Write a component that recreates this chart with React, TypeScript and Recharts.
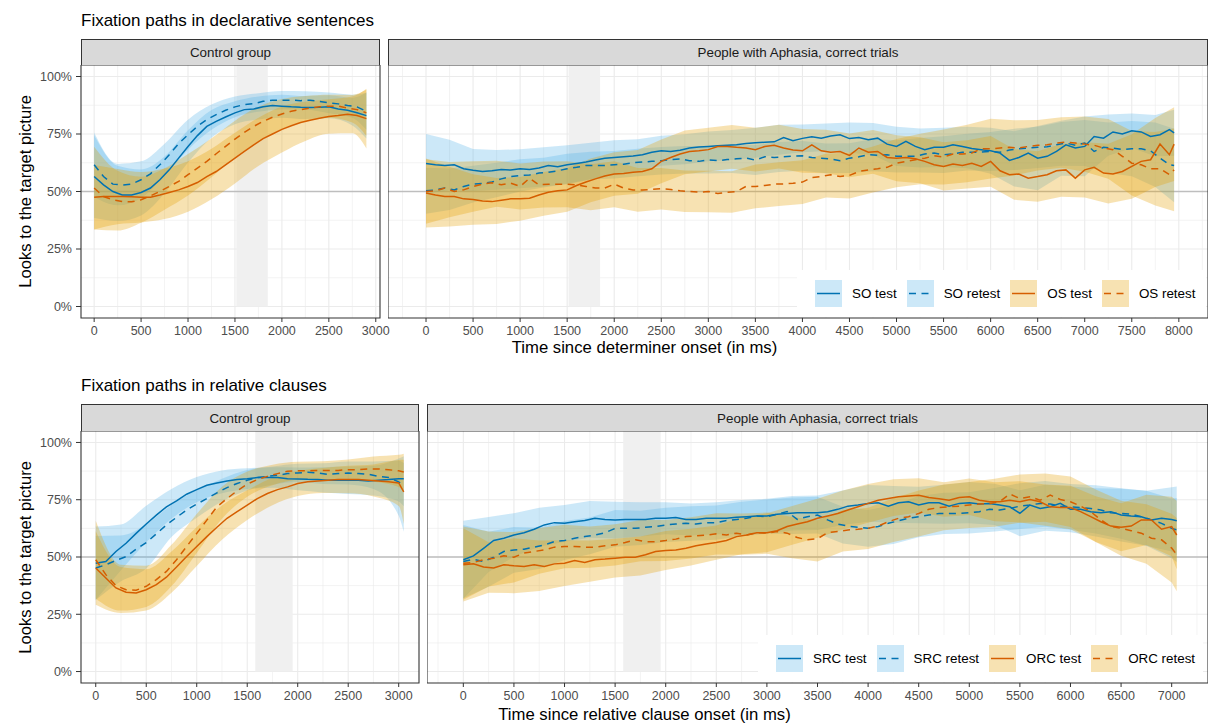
import React from "react";
import { Area, ComposedChart, Line, ReferenceArea, ReferenceLine, XAxis, YAxis } from "recharts";

const FONT = '"Liberation Sans", Arial, Helvetica, sans-serif';
const BLUE = "#0072B2";
const ORANGE = "#D55E00";
const BLUE_FILL = "#56B4E9";
const ORANGE_FILL = "#E69F00";
const GRID = "#EBEBEB";
const DARK = "#333333";
const TICK_GREY = "#4D4D4D";
const X_AXIS_H = 30;
const DASH = "7 5.5";

// y axis
const Y_TICKS = [0, 25, 50, 75, 100];
const Y_MINOR = [12.5, 37.5, 62.5, 87.5];

// legend labels
const TOP_NAMES = ["SO test", "SO retest", "OS test", "OS retest"];
const BOTTOM_NAMES = ["SRC test", "SRC retest", "ORC test", "ORC retest"];

// ---------- declarative sentences, control group ----------
const TOP_CTRL_T = [0, 100, 200, 300, 400, 500, 600, 700, 800, 900, 1000, 1100, 1200, 1300, 1400, 1500, 1600, 1700, 1800, 1900, 2000, 2100, 2200, 2300, 2400, 2500, 2600, 2700, 2800, 2900];
const TOP_CTRL_SO_TEST = [56.5, 52.9, 50, 48.5, 48.5, 49.6, 51.5, 55.1, 59.4, 64.5, 69.6, 74.3, 78.3, 80.5, 82.4, 84.2, 85.6, 85.9, 86.8, 87.4, 87.1, 86.8, 86.6, 86.5, 86.6, 86.8, 85.9, 85.3, 84.2, 83.0];
const TOP_CTRL_SO_RETEST = [61.6, 56.5, 53.2, 52.8, 53.2, 55.1, 57.7, 61.6, 66.0, 70.8, 74.7, 78.3, 81.3, 83.4, 85.3, 86.8, 87.8, 88.2, 89.2, 89.7, 89.7, 89.7, 89.5, 89.7, 89.2, 88.5, 88.1, 87.4, 86.8, 84.9];
const TOP_CTRL_OS_TEST = [47.5, 47.8, 47.8, 47.8, 47.7, 47.5, 47.5, 48.5, 49.6, 50.7, 52.2, 53.9, 56.5, 58.7, 61.6, 64.5, 67.4, 70.3, 73.0, 75.0, 77.0, 78.6, 80.0, 81.0, 81.8, 82.6, 83.0, 83.6, 83.0, 81.7];
const TOP_CTRL_OS_RETEST = [51.5, 47.8, 46.4, 45.6, 45.5, 46.4, 48.1, 50.0, 52.2, 54.4, 57.3, 60.2, 63.1, 66.4, 69.6, 72.8, 75.7, 78.3, 80.5, 82.3, 83.7, 84.9, 85.6, 86.3, 86.8, 87.1, 87.1, 86.3, 85.6, 84.2];

const TOP_CTRL_BAND_T = [0, 250, 500, 750, 1000, 1250, 1500, 1750, 2000, 2250, 2500, 2750, 2900];
const TOP_CTRL_SO_TEST_HI = [74.5, 61.2, 59.6, 65.2, 76.6, 85.4, 89.2, 91.3, 92.1, 91.5, 91.8, 90.7, 93.0];
const TOP_CTRL_SO_TEST_LO = [38.5, 37.2, 39.6, 49.2, 62.6, 73.4, 79.2, 81.3, 82.1, 81.5, 81.8, 78.7, 73.0];
const TOP_CTRL_SO_RETEST_HI = [75.6, 62.0, 63.1, 70.8, 81.2, 87.8, 91.3, 92.7, 93.7, 93.6, 93.0, 92.1, 92.9];
const TOP_CTRL_SO_RETEST_LO = [47.6, 44.0, 47.1, 56.8, 68.2, 76.8, 82.3, 84.7, 85.7, 85.6, 84.0, 82.1, 76.9];
const TOP_CTRL_OS_TEST_HI = [61.5, 59.8, 58.5, 60.0, 63.2, 68.6, 75.5, 82.1, 87.0, 89.0, 90.1, 91.3, 94.7];
const TOP_CTRL_OS_TEST_LO = [33.5, 35.8, 36.5, 38.0, 41.2, 46.6, 53.5, 61.1, 67.0, 72.0, 75.1, 75.3, 68.7];
const TOP_CTRL_OS_RETEST_HI = [69.5, 59.0, 56.4, 60.1, 66.3, 73.2, 80.8, 86.9, 90.2, 91.5, 92.1, 92.0, 94.2];
const TOP_CTRL_OS_RETEST_LO = [33.5, 33.0, 36.4, 42.1, 48.3, 56.2, 64.8, 71.9, 77.2, 80.5, 82.1, 80.0, 74.2];

// ---------- declarative sentences, people with aphasia ----------
const TOP_PWA_T = [
  0, 100, 200, 300, 400, 500, 600, 700, 800, 900,
  1000, 1100, 1200, 1300, 1400, 1500, 1600, 1700, 1800, 1900,
  2000, 2100, 2200, 2300, 2400, 2500, 2600, 2700, 2800, 2900,
  3000, 3100, 3200, 3300, 3400, 3500, 3600, 3700, 3800, 3900,
  4000, 4100, 4200, 4300, 4400, 4500, 4600, 4700, 4800, 4900,
  5000, 5100, 5200, 5300, 5400, 5500, 5600, 5700, 5800, 5900,
  6000, 6100, 6200, 6300, 6400, 6500, 6600, 6700, 6800, 6900,
  7000, 7100, 7200, 7300, 7400, 7500, 7600, 7700, 7800, 7900, 7950,
];
const TOP_PWA_SO_TEST = [
  62.2, 61.6, 61.3, 61.6, 59.9, 59.2, 58.7, 59.0, 59.6, 59.3,
  59.9, 59.6, 60.2, 61.3, 60.8, 61.6, 62.2, 62.8, 63.7, 64.5,
  64.8, 65.1, 65.4, 66.0, 67.1, 67.7, 67.4, 67.9, 68.9, 69.3,
  69.6, 69.9, 70.1, 70.3, 70.9, 71.2, 71.4, 71.6, 73.5, 72.1,
  73.1, 73.8, 73.2, 74.1, 74.7, 73.0, 73.5, 72.5, 73.2, 70.6,
  69.6, 71.8, 69.6, 68.2, 69.2, 69.2, 70.3, 69.6, 68.7, 68.2,
  67.7, 66.7, 63.5, 64.8, 66.7, 64.5, 65.3, 67.4, 70.3, 68.9,
  69.6, 73.9, 73.2, 75.9, 75.0, 76.4, 75.9, 73.9, 74.7, 76.9, 75.5,
];
const TOP_PWA_SO_RETEST = [
  50.3, 50.7, 51.5, 50.7, 52.2, 53.2, 53.5, 54.1, 55.5, 56.5,
  57.0, 57.2, 58.0, 58.4, 59.0, 59.9, 60.5, 61.3, 61.3, 61.3,
  61.6, 61.9, 62.5, 62.8, 63.1, 63.4, 63.9, 64.2, 63.4, 63.1,
  63.8, 63.4, 63.9, 64.2, 64.5, 63.7, 65.1, 64.8, 65.1, 65.4,
  65.5, 64.8, 64.5, 64.2, 63.4, 64.5, 65.1, 66.0, 65.7, 66.0,
  65.3, 65.3, 65.3, 66.3, 66.7, 66.0, 66.3, 67.1, 67.1, 67.1,
  67.4, 67.1, 68.0, 68.6, 68.9, 69.2, 69.5, 70.3, 71.1, 70.1,
  71.1, 67.4, 69.2, 68.9, 68.2, 68.6, 68.6, 67.7, 64.5, 61.6, 61.3,
];
const TOP_PWA_OS_TEST = [
  49.3, 48.5, 47.8, 47.8, 46.8, 46.5, 45.9, 45.6, 46.2, 46.8,
  46.8, 47.1, 48.5, 49.7, 50.3, 50.7, 52.6, 54.1, 55.5, 56.7,
  57.6, 57.8, 58.4, 58.7, 59.9, 63.1, 64.8, 66.3, 67.4, 67.7,
  68.2, 69.6, 69.6, 69.2, 68.9, 68.2, 69.6, 70.1, 68.9, 68.0,
  67.7, 70.3, 67.7, 67.1, 67.4, 65.7, 68.9, 67.1, 67.4, 64.8,
  64.5, 64.8, 64.2, 63.1, 61.6, 60.9, 61.9, 61.3, 62.3, 60.9,
  63.1, 59.0, 57.3, 57.6, 55.8, 56.5, 57.3, 59.0, 59.4, 55.8,
  59.4, 60.5, 58.0, 57.6, 58.7, 60.9, 63.1, 63.8, 70.6, 66.0, 70.6,
];
const TOP_PWA_OS_RETEST = [
  50.0, 50.3, 51.5, 50.0, 50.7, 52.2, 53.2, 53.8, 52.9, 53.6,
  52.2, 55.8, 52.9, 53.2, 53.2, 53.2, 52.9, 52.2, 51.5, 51.5,
  53.2, 51.5, 50.7, 50.7, 50.9, 51.2, 50.9, 50.3, 50.0, 49.7,
  50.0, 49.1, 49.7, 50.0, 52.2, 52.2, 52.6, 53.2, 53.3, 53.6,
  54.1, 56.1, 56.5, 57.3, 56.5, 57.0, 58.7, 59.4, 59.9, 60.5,
  62.3, 63.1, 63.8, 64.5, 65.5, 65.0, 66.3, 66.3, 66.7, 68.6,
  68.6, 68.9, 69.2, 68.9, 69.6, 70.1, 70.3, 71.1, 71.5, 71.1,
  70.6, 70.1, 68.9, 68.2, 65.3, 62.3, 61.6, 59.9, 59.9, 57.3, 59.4,
];

const TOP_PWA_BAND_T = [0, 250, 500, 750, 1000, 1250, 1500, 1750, 2000, 2250, 2500, 2750, 3000, 3250, 3500, 3750, 4000, 4250, 4500, 4750, 5000, 5250, 5500, 5750, 6000, 6250, 6500, 6750, 7000, 7250, 7500, 7750, 7950];
const TOP_PWA_SO_TEST_HI = [75, 72.5, 68.5, 68, 68.4, 69.2, 70.1, 71.2, 72.3, 72.7, 74.2, 74.9, 76.1, 76.7, 77.7, 79, 79.1, 79.6, 80, 79.8, 78.1, 77.4, 77.7, 78.1, 77.7, 76.2, 78.5, 80.8, 82.6, 83.5, 83.9, 83.3, 85.5];
const TOP_PWA_SO_TEST_LO = [49, 50.5, 50.2, 50.8, 51.4, 52.2, 53.1, 55.2, 57.3, 58.7, 61.2, 61.9, 63.1, 63.7, 64.7, 66, 67.1, 67.6, 67, 65.8, 61.1, 60.4, 60.7, 60.1, 57.7, 52.2, 50.5, 56.8, 56.6, 65.5, 68.9, 65.3, 65.5];
const TOP_PWA_SO_RETEST_HI = [60.3, 60, 61.2, 62.5, 64, 64.7, 66.4, 67.3, 67.6, 68.6, 69.4, 69.8, 69.8, 70, 70.2, 71.5, 72, 70.9, 71, 72.8, 72.3, 73.3, 74, 75.1, 75.9, 77.3, 78.2, 80.2, 81.1, 80, 80.6, 80, 77.3];
const TOP_PWA_SO_RETEST_LO = [40.3, 42, 45.2, 47.5, 50, 51.7, 53.4, 55.3, 55.6, 56.6, 57.4, 57.8, 57.8, 58, 57.2, 58.5, 59, 57.9, 58, 58.8, 58.3, 58.3, 58, 59.1, 58.9, 59.3, 60.2, 61.2, 61.1, 58, 56.6, 52, 45.3];
const TOP_PWA_OS_TEST_HI = [64.3, 60.8, 57.5, 55.9, 56.3, 58.5, 60.2, 64.3, 67.1, 68, 72.6, 76.5, 77.7, 78.9, 77.7, 79, 77.2, 76.9, 75.2, 76.7, 74.5, 73.6, 71.4, 72.3, 74.1, 68.4, 67.5, 70.7, 71.4, 70.8, 74.9, 82, 86.6];
const TOP_PWA_OS_TEST_LO = [34.3, 34.8, 35.5, 35.9, 37.3, 39.5, 41.2, 45.3, 48.1, 49, 53.6, 57.5, 58.7, 59.9, 58.7, 60, 58.2, 57.9, 56.2, 57.7, 54.5, 53.6, 50.4, 51.3, 52.1, 46.4, 45.5, 47.7, 47.4, 44.8, 46.9, 52, 54.6];
const TOP_PWA_OS_RETEST_HI = [64, 62.8, 63.2, 63.4, 62.2, 63, 63.2, 61.8, 63.2, 60.2, 60.2, 59.1, 59, 58.8, 61.7, 62.7, 63.6, 66.4, 67, 69.6, 72.8, 75.1, 77, 79, 81.6, 81, 81.1, 82.3, 82.6, 81.5, 76.3, 75.9, 77.4];
const TOP_PWA_OS_RETEST_LO = [36, 38.8, 41.2, 43.4, 42.2, 43, 43.2, 41.8, 43.2, 41.2, 42.2, 41.1, 41, 40.8, 42.7, 43.7, 44.6, 47.4, 47, 49.6, 51.8, 53.1, 53, 54, 55.6, 57, 59.1, 60.3, 58.6, 55.5, 48.3, 43.9, 41.4];

// ---------- relative clauses, control group ----------
const BOT_CTRL_T = [0, 100, 200, 300, 400, 500, 600, 700, 800, 900, 1000, 1100, 1200, 1300, 1400, 1500, 1600, 1700, 1800, 1900, 2000, 2100, 2200, 2300, 2400, 2500, 2600, 2700, 2800, 2900, 3000, 3050];
const BOT_CTRL_SRC_TEST = [47.3, 48.0, 52.4, 56.0, 60.3, 64.4, 68.3, 71.9, 74.5, 77.4, 79.4, 81.3, 82.3, 83.2, 83.8, 84.2, 84.7, 84.7, 84.7, 84.2, 84.1, 83.9, 83.8, 83.5, 83.5, 83.5, 83.5, 83.2, 83.5, 83.8, 84.2, 84.2];
const BOT_CTRL_SRC_RETEST = [45.2, 46.6, 48.5, 50.2, 53.4, 56.3, 60.1, 64.0, 67.3, 70.5, 73.1, 75.5, 78.0, 80.3, 82.1, 83.5, 84.7, 85.2, 85.7, 86.4, 86.7, 87.0, 86.7, 86.1, 86.4, 86.7, 86.4, 86.1, 85.2, 84.7, 82.8, 80.9];
const BOT_CTRL_ORC_TEST = [45.2, 40.8, 36.5, 34.6, 34.3, 35.7, 37.9, 41.2, 45.6, 50.2, 54.6, 58.9, 63.0, 66.9, 69.8, 72.6, 75.5, 77.7, 79.4, 80.6, 82.1, 82.8, 83.2, 83.5, 83.8, 83.8, 83.8, 83.5, 83.2, 82.8, 82.3, 78.4];
const BOT_CTRL_ORC_RETEST = [48.8, 42.3, 37.5, 35.7, 35.5, 37.2, 40.1, 43.7, 48.8, 54.6, 60.3, 66.1, 71.9, 75.5, 78.9, 81.8, 83.8, 85.2, 86.4, 87.4, 87.6, 87.6, 87.8, 87.8, 87.8, 88.1, 88.1, 88.4, 88.4, 88.1, 87.6, 87.1];

const BOT_CTRL_BAND_T = [0, 250, 500, 750, 1000, 1250, 1500, 1750, 2000, 2250, 2500, 2750, 3000, 3050];
const BOT_CTRL_SRC_TEST_HI = [63.3, 64.2, 72.4, 79.7, 84.9, 87.8, 88.7, 89.2, 89.1, 89.2, 89.5, 89.8, 93.0, 94.0];
const BOT_CTRL_SRC_TEST_LO = [31.3, 44.2, 56.4, 66.7, 73.9, 77.8, 79.7, 80.2, 79.1, 78.2, 77.5, 76.8, 74.2, 72.2];
const BOT_CTRL_SRC_RETEST_HI = [59.2, 59.4, 64.3, 72.7, 79.1, 84.2, 88.0, 89.5, 90.7, 90.9, 91.7, 91.7, 92.0, 91.0];
const BOT_CTRL_SRC_RETEST_LO = [31.2, 39.4, 45.0, 58.7, 67.1, 74.2, 79.0, 81.5, 82.7, 81.9, 81.7, 79.7, 68.0, 61.0];
const BOT_CTRL_ORC_TEST_HI = [61.2, 45.6, 44.7, 52.4, 63.1, 72.5, 79.1, 84.6, 87.6, 88.9, 89.8, 90.4, 92.3, 92.4];
const BOT_CTRL_ORC_TEST_LO = [29.2, 25.6, 26.7, 34.4, 46.1, 57.5, 66.1, 72.6, 76.6, 77.9, 77.8, 76.4, 72.3, 64.4];
const BOT_CTRL_ORC_RETEST_HI = [65.8, 46.6, 46.2, 55.3, 68.8, 80.7, 87.3, 90.3, 91.6, 91.8, 92.6, 93.9, 94.6, 95.1];
const BOT_CTRL_ORC_RETEST_LO = [31.8, 26.6, 28.2, 37.3, 51.8, 66.7, 76.3, 81.3, 83.6, 83.8, 83.6, 82.9, 80.6, 79.1];

// ---------- relative clauses, people with aphasia ----------
const BOT_PWA_T = [
  0, 100, 200, 300, 400, 500, 600, 700, 800, 900,
  1000, 1100, 1200, 1300, 1400, 1500, 1600, 1700, 1800, 1900,
  2000, 2100, 2200, 2300, 2400, 2500, 2600, 2700, 2800, 2900,
  3000, 3100, 3200, 3300, 3400, 3500, 3600, 3700, 3800, 3900,
  4000, 4100, 4200, 4300, 4400, 4500, 4600, 4700, 4800, 4900,
  5000, 5100, 5200, 5300, 5400, 5500, 5600, 5700, 5800, 5900,
  6000, 6100, 6200, 6300, 6400, 6500, 6600, 6700, 6800, 6900,
  7000, 7050,
];
const BOT_PWA_SRC_TEST = [
  48.8, 50.5, 53.8, 57.2, 58.2, 59.6, 60.6, 62.1, 64.0, 65.0,
  64.7, 65.4, 65.9, 66.9, 66.4, 66.1, 66.4, 66.4, 66.4, 66.9,
  66.9, 67.2, 66.4, 66.4, 66.9, 66.9, 66.9, 67.3, 67.6, 67.9,
  67.9, 68.7, 69.0, 69.3, 69.3, 69.3, 69.8, 70.8, 72.2, 72.7,
  73.4, 73.7, 72.2, 73.7, 74.1, 72.7, 73.7, 73.7, 72.2, 73.4,
  73.7, 73.1, 73.4, 72.7, 71.9, 69.1, 72.7, 71.2, 71.9, 73.4,
  70.8, 70.8, 69.8, 69.3, 69.8, 68.3, 67.9, 67.6, 66.2, 66.9,
  66.4, 65.8,
];
const BOT_PWA_SRC_RETEST = [
  48.0, 49.0, 48.0, 49.9, 52.4, 53.1, 53.4, 54.3, 55.3, 56.7,
  57.2, 58.2, 58.9, 59.6, 60.6, 62.5, 62.5, 62.5, 63.0, 63.3,
  64.0, 64.4, 64.7, 64.4, 65.0, 65.0, 65.9, 66.4, 66.9, 67.9,
  67.6, 68.7, 69.8, 66.4, 67.6, 68.3, 66.2, 64.4, 63.5, 63.0,
  62.5, 63.3, 64.7, 65.8, 66.9, 67.6, 68.3, 69.0, 69.0, 69.0,
  69.3, 69.8, 70.8, 70.5, 71.2, 72.2, 72.7, 73.4, 73.1, 72.2,
  71.9, 71.6, 71.2, 70.5, 69.3, 69.0, 68.7, 67.6, 66.2, 64.7,
  62.5, 61.8,
];
const BOT_PWA_ORC_TEST = [
  46.6, 47.0, 45.6, 45.2, 46.6, 46.2, 45.9, 46.6, 45.9, 47.0,
  47.3, 48.5, 47.6, 48.8, 49.1, 49.5, 49.9, 49.9, 51.0, 52.4,
  52.8, 53.1, 53.8, 54.9, 55.7, 56.3, 57.2, 58.9, 59.6, 60.6,
  60.6, 61.5, 63.3, 64.4, 65.4, 66.9, 67.9, 69.0, 70.5, 71.9,
  73.4, 74.8, 75.5, 76.3, 76.6, 76.9, 76.0, 75.4, 74.8, 76.0,
  76.3, 74.8, 74.1, 74.1, 74.8, 74.1, 75.1, 74.1, 71.9, 71.6,
  71.6, 69.8, 67.6, 65.4, 63.5, 63.0, 63.5, 66.2, 66.2, 62.1,
  63.3, 59.6,
];
const BOT_PWA_ORC_RETEST = [
  47.3, 47.6, 48.8, 49.5, 50.5, 49.9, 51.7, 52.4, 53.1, 54.3,
  54.6, 54.6, 54.3, 54.3, 54.9, 55.3, 56.3, 57.5, 56.7, 56.7,
  57.2, 57.8, 58.9, 59.2, 59.6, 60.1, 59.6, 60.4, 59.6, 60.6,
  60.4, 61.1, 60.4, 58.5, 57.5, 58.0, 60.6, 61.1, 61.8, 62.1,
  62.5, 63.5, 65.4, 66.9, 67.6, 69.0, 70.8, 71.6, 71.9, 72.2,
  72.7, 73.1, 73.4, 74.1, 77.5, 75.5, 76.3, 74.8, 77.0, 75.1,
  74.1, 72.2, 69.8, 66.2, 63.3, 62.5, 61.5, 60.4, 58.2, 57.5,
  53.9, 51.0,
];

const BOT_PWA_BAND_T = [0, 250, 500, 750, 1000, 1250, 1500, 1750, 2000, 2250, 2500, 2750, 3000, 3250, 3500, 3750, 4000, 4250, 4500, 4750, 5000, 5250, 5500, 5750, 6000, 6250, 6500, 6750, 7000, 7050];
const BOT_PWA_SRC_TEST_HI = [65.8, 67.5, 69.1, 71.5, 72.7, 74.4, 74.1, 73.9, 73.9, 73.4, 73.9, 74.9, 75.4, 76.6, 76.8, 79, 81.4, 81, 80.7, 81.5, 82.7, 82, 79.1, 81.5, 80.8, 80, 79.8, 78.9, 80.4, 80.8];
const BOT_PWA_SRC_TEST_LO = [31.8, 43.5, 50.1, 54.5, 56.7, 58.4, 58.1, 58.9, 59.9, 59.4, 59.9, 59.9, 60.4, 61.6, 61.8, 64, 65.4, 65, 64.7, 64.5, 64.7, 64, 59.1, 61.5, 60.8, 59, 56.8, 54.9, 52.4, 50.8];
const BOT_PWA_SRC_RETEST_HI = [64, 61, 63.1, 62.8, 65.7, 67.2, 70.5, 70.2, 71.5, 72.1, 72.5, 74.1, 75.1, 76, 76.3, 71.9, 70.5, 72.7, 76.6, 78, 78.3, 80.1, 82.2, 83.2, 81.9, 81.3, 80, 78.9, 75.5, 75.8];
const BOT_PWA_SRC_RETEST_LO = [32, 37, 43.1, 44.8, 48.7, 51.2, 54.5, 55.2, 56.5, 57.1, 57.5, 59.1, 60.1, 60, 60.3, 55.9, 54.5, 55.7, 58.6, 60, 60.3, 61.1, 62.2, 63.2, 61.9, 60.3, 58, 54.9, 49.5, 47.8];
const BOT_PWA_ORC_TEST_HI = [62.6, 56.4, 58.2, 57.2, 57.3, 57.2, 58, 58.9, 61.3, 62.3, 63.8, 67.2, 69.1, 72.3, 75.4, 79, 81.9, 83.9, 84.4, 82.6, 84.3, 82.6, 83.1, 81.6, 81.1, 76.5, 73.5, 77.2, 76.3, 74.6];
const BOT_PWA_ORC_TEST_LO = [30.6, 34.4, 34.2, 35.2, 37.3, 39.2, 41, 41.9, 44.3, 46.3, 48.8, 51.2, 52.1, 55.3, 58.4, 62, 64.9, 67.9, 69.4, 67.6, 68.3, 65.6, 65.1, 63.6, 62.1, 56.5, 52.5, 55.2, 50.3, 44.6];
const BOT_PWA_ORC_RETEST_HI = [63.3, 61.1, 60.9, 62.7, 64.1, 63.3, 64.3, 66.1, 66.2, 67.3, 69.1, 69, 69.4, 67.5, 66, 70.4, 71.5, 75.6, 79, 81.7, 82.7, 84.2, 86, 86.4, 85.1, 79.5, 74.5, 73, 68.9, 67];
const BOT_PWA_ORC_RETEST_LO = [31.3, 37.1, 38.9, 42.7, 45.1, 45.3, 46.3, 48.1, 48.2, 49.3, 51.1, 51, 51.4, 49.5, 48, 52.4, 53.5, 56.6, 59, 61.7, 62.7, 63.2, 65, 65.4, 63.1, 56.5, 50.5, 47, 38.9, 35];

// x ticks
const CTRL_TICKS = [0, 500, 1000, 1500, 2000, 2500, 3000];
const CTRL_MINOR = [250, 750, 1250, 1750, 2250, 2750];
const TOP_PWA_TICKS = [0, 500, 1000, 1500, 2000, 2500, 3000, 3500, 4000, 4500, 5000, 5500, 6000, 6500, 7000, 7500, 8000];
const TOP_PWA_MINOR = [-250, 250, 750, 1250, 1750, 2250, 2750, 3250, 3750, 4250, 4750, 5250, 5750, 6250, 6750, 7250, 7750, 8250];
const BOT_PWA_TICKS = [0, 500, 1000, 1500, 2000, 2500, 3000, 3500, 4000, 4500, 5000, 5500, 6000, 6500, 7000];
const BOT_PWA_MINOR = [-250, 250, 750, 1250, 1750, 2250, 2750, 3250, 3750, 4250, 4750, 5250, 5750, 6250, 6750, 7250];

const STYLES = [
  { color: BLUE, fill: BLUE_FILL, dashed: false },
  { color: BLUE, fill: BLUE_FILL, dashed: true },
  { color: ORANGE, fill: ORANGE_FILL, dashed: false },
  { color: ORANGE, fill: ORANGE_FILL, dashed: true },
];

type Series = { line: number[]; lo: number[]; hi: number[] };

type PanelCfg = {
  id: string;
  left: number;
  top: number;
  width: number;
  plotH: number;
  yAxisW: number;
  marginRight: number;
  domain: [number, number];
  ticks: number[];
  minor: number[];
  shade: [number, number];
  lineT: number[];
  bandT: number[];
  bandCurve: "monotone" | "linear";
  series: Series[];
};

const toRows = (t: number[], v: number[]) => t.map((x, i) => ({ t: x, v: v[i] }));
const toBand = (t: number[], lo: number[], hi: number[]) => t.map((x, i) => ({ t: x, r: [lo[i], hi[i]] }));

function Panel({ cfg }: { cfg: PanelCfg }) {
  const showY = cfg.yAxisW > 0;
  return (
    <div style={{ position: "absolute", left: cfg.left, top: cfg.top }}>
      <ComposedChart
        width={cfg.width}
        height={cfg.plotH + X_AXIS_H}
        margin={{ top: 0, right: cfg.marginRight, bottom: 0, left: 0 }}
        style={{ fontFamily: FONT }}
      >
        <XAxis
          type="number"
          dataKey="t"
          domain={cfg.domain}
          allowDataOverflow
          ticks={cfg.ticks}
          interval={0}
          height={X_AXIS_H}
          axisLine={false}
          tickLine={{ stroke: DARK, strokeWidth: 1 }}
          tickSize={4}
          tickMargin={4}
          tick={{ fill: TICK_GREY, fontSize: 12.5 }}
        />
        <YAxis
          type="number"
          domain={[-5, 105]}
          allowDataOverflow
          ticks={Y_TICKS}
          interval={0}
          hide={!showY}
          width={showY ? cfg.yAxisW : 0}
          axisLine={false}
          tickLine={{ stroke: DARK, strokeWidth: 1 }}
          tickSize={5}
          tickMargin={4}
          tick={{ fill: TICK_GREY, fontSize: 12.5 }}
          tickFormatter={(v: number) => `${v}%`}
        />
        {Y_MINOR.map((y) => (
          <ReferenceLine key={`ym${y}`} y={y} stroke={GRID} strokeWidth={0.6} zIndex={-100} />
        ))}
        {cfg.minor.map((x) => (
          <ReferenceLine key={`xm${x}`} x={x} stroke={GRID} strokeWidth={0.6} zIndex={-100} />
        ))}
        {Y_TICKS.map((y) => (
          <ReferenceLine key={`yM${y}`} y={y} stroke={GRID} strokeWidth={1.1} zIndex={-100} />
        ))}
        {cfg.ticks.map((x) => (
          <ReferenceLine key={`xM${x}`} x={x} stroke={GRID} strokeWidth={1.1} zIndex={-100} />
        ))}
        <ReferenceArea x1={cfg.shade[0]} x2={cfg.shade[1]} y1={0} y2={105} fill="#F0F0F0" fillOpacity={1} stroke="none" zIndex={-50} />
        <ReferenceLine y={50} stroke="#BEBEBE" strokeWidth={1.6} zIndex={-40} />
        {cfg.series.map((s, i) => (
          <Area
            key={`band${i}`}
            data={toBand(cfg.bandT, s.lo, s.hi)}
            dataKey="r"
            type={cfg.bandCurve}
            stroke="none"
            fill={STYLES[i].fill}
            fillOpacity={0.3}
            dot={false}
            activeDot={false}
            isAnimationActive={false}
          />
        ))}
        {cfg.series.map((s, i) => (
          <Line
            key={`line${i}`}
            data={toRows(cfg.lineT, s.line)}
            dataKey="v"
            type="linear"
            stroke={STYLES[i].color}
            strokeWidth={1.5}
            strokeDasharray={STYLES[i].dashed ? DASH : undefined}
            dot={false}
            activeDot={false}
            isAnimationActive={false}
          />
        ))}
        <ReferenceArea
          x1={cfg.domain[0]}
          x2={cfg.domain[1]}
          y1={-5}
          y2={105}
          fill="none"
          stroke={DARK}
          strokeWidth={1.1}
          zIndex={1500}
        />
      </ComposedChart>
    </div>
  );
}

function Strip({ left, top, width, height, label }: { left: number; top: number; width: number; height: number; label: string }) {
  return (
    <div
      style={{
        position: "absolute",
        left,
        top,
        width,
        height,
        boxSizing: "border-box",
        background: "#D9D9D9",
        border: `1.1px solid ${DARK}`,
        borderBottom: "none",
        color: "#1A1A1A",
        fontSize: 13.4,
        lineHeight: `${height}px`,
        textAlign: "center",
      }}
    >
      {label}
    </div>
  );
}

function LegendBox({ left, top, width, names }: { left: number; top: number; width: number; names: string[] }) {
  return (
    <div
      style={{
        position: "absolute",
        left,
        top,
        width,
        height: 47,
        background: "#fff",
        boxSizing: "border-box",
        paddingLeft: 18,
        display: "flex",
        alignItems: "center",
      }}
    >
      {names.map((n, i) => (
        <div key={n} style={{ display: "flex", alignItems: "center", marginRight: 10 }}>
          <svg width={27} height={27} style={{ display: "block" }}>
            <rect x={0} y={0} width={27} height={27} fill={STYLES[i].fill} fillOpacity={0.3} />
            <line
              x1={2}
              x2={25}
              y1={13.5}
              y2={13.5}
              stroke={STYLES[i].color}
              strokeWidth={1.5}
              strokeDasharray={STYLES[i].dashed ? DASH : undefined}
            />
          </svg>
          <span style={{ marginLeft: 10, fontSize: 13.4, color: "#000", whiteSpace: "nowrap" }}>{n}</span>
        </div>
      ))}
    </div>
  );
}

const PANELS: PanelCfg[] = [
  {
    id: "topCtrl",
    left: 0,
    top: 65,
    width: 392,
    plotH: 253,
    yAxisW: 81,
    marginRight: 12,
    domain: [-140, 3045],
    ticks: CTRL_TICKS,
    minor: CTRL_MINOR,
    shade: [1515, 1850],
    lineT: TOP_CTRL_T,
    bandT: TOP_CTRL_BAND_T,
    bandCurve: "monotone",
    series: [
      { line: TOP_CTRL_SO_TEST, lo: TOP_CTRL_SO_TEST_LO, hi: TOP_CTRL_SO_TEST_HI },
      { line: TOP_CTRL_SO_RETEST, lo: TOP_CTRL_SO_RETEST_LO, hi: TOP_CTRL_SO_RETEST_HI },
      { line: TOP_CTRL_OS_TEST, lo: TOP_CTRL_OS_TEST_LO, hi: TOP_CTRL_OS_TEST_HI },
      { line: TOP_CTRL_OS_RETEST, lo: TOP_CTRL_OS_RETEST_LO, hi: TOP_CTRL_OS_RETEST_HI },
    ],
  },
  {
    id: "topPwa",
    left: 388,
    top: 65,
    width: 820,
    plotH: 253,
    yAxisW: 0,
    marginRight: 0,
    domain: [-404, 8310],
    ticks: TOP_PWA_TICKS,
    minor: TOP_PWA_MINOR,
    shade: [1515, 1850],
    lineT: TOP_PWA_T,
    bandT: TOP_PWA_BAND_T,
    bandCurve: "linear",
    series: [
      { line: TOP_PWA_SO_TEST, lo: TOP_PWA_SO_TEST_LO, hi: TOP_PWA_SO_TEST_HI },
      { line: TOP_PWA_SO_RETEST, lo: TOP_PWA_SO_RETEST_LO, hi: TOP_PWA_SO_RETEST_HI },
      { line: TOP_PWA_OS_TEST, lo: TOP_PWA_OS_TEST_LO, hi: TOP_PWA_OS_TEST_HI },
      { line: TOP_PWA_OS_RETEST, lo: TOP_PWA_OS_RETEST_LO, hi: TOP_PWA_OS_RETEST_HI },
    ],
  },
  {
    id: "botCtrl",
    left: 0,
    top: 431,
    width: 431,
    plotH: 252,
    yAxisW: 81,
    marginRight: 12,
    domain: [-146, 3201],
    ticks: CTRL_TICKS,
    minor: CTRL_MINOR,
    shade: [1580, 1950],
    lineT: BOT_CTRL_T,
    bandT: BOT_CTRL_BAND_T,
    bandCurve: "monotone",
    series: [
      { line: BOT_CTRL_SRC_TEST, lo: BOT_CTRL_SRC_TEST_LO, hi: BOT_CTRL_SRC_TEST_HI },
      { line: BOT_CTRL_SRC_RETEST, lo: BOT_CTRL_SRC_RETEST_LO, hi: BOT_CTRL_SRC_RETEST_HI },
      { line: BOT_CTRL_ORC_TEST, lo: BOT_CTRL_ORC_TEST_LO, hi: BOT_CTRL_ORC_TEST_HI },
      { line: BOT_CTRL_ORC_RETEST, lo: BOT_CTRL_ORC_RETEST_LO, hi: BOT_CTRL_ORC_RETEST_HI },
    ],
  },
  {
    id: "botPwa",
    left: 427,
    top: 431,
    width: 781,
    plotH: 252,
    yAxisW: 0,
    marginRight: 0,
    domain: [-359, 7359],
    ticks: BOT_PWA_TICKS,
    minor: BOT_PWA_MINOR,
    shade: [1580, 1950],
    lineT: BOT_PWA_T,
    bandT: BOT_PWA_BAND_T,
    bandCurve: "linear",
    series: [
      { line: BOT_PWA_SRC_TEST, lo: BOT_PWA_SRC_TEST_LO, hi: BOT_PWA_SRC_TEST_HI },
      { line: BOT_PWA_SRC_RETEST, lo: BOT_PWA_SRC_RETEST_LO, hi: BOT_PWA_SRC_RETEST_HI },
      { line: BOT_PWA_ORC_TEST, lo: BOT_PWA_ORC_TEST_LO, hi: BOT_PWA_ORC_TEST_HI },
      { line: BOT_PWA_ORC_RETEST, lo: BOT_PWA_ORC_RETEST_LO, hi: BOT_PWA_ORC_RETEST_HI },
    ],
  },
];

const titleStyle: React.CSSProperties = {
  position: "absolute",
  left: 81,
  fontSize: 17,
  lineHeight: "17px",
  color: "#000",
  whiteSpace: "nowrap",
};

const axisTitleStyle: React.CSSProperties = {
  position: "absolute",
  left: 81,
  width: 1127,
  fontSize: 16.7,
  lineHeight: "16.7px",
  textAlign: "center",
  color: "#000",
  whiteSpace: "nowrap",
};

const yTitleStyle = (cy: number): React.CSSProperties => ({
  position: "absolute",
  left: 26 - 150,
  top: cy - 8.35,
  width: 300,
  height: 16.7,
  fontSize: 16.7,
  lineHeight: "16.7px",
  textAlign: "center",
  color: "#000",
  transform: "rotate(-90deg)",
  whiteSpace: "nowrap",
});

export default function App() {
  return (
    <div
      style={{
        position: "fixed",
        left: 0,
        top: 0,
        width: 1209,
        height: 724,
        background: "#fff",
        fontFamily: FONT,
        overflow: "hidden",
      }}
    >
      <div style={{ ...titleStyle, top: 11.5 }}>Fixation paths in declarative sentences</div>
      <div style={{ ...titleStyle, top: 377.3 }}>Fixation paths in relative clauses</div>

      <Strip left={81} top={39} width={299} height={26} label="Control group" />
      <Strip left={388} top={39} width={820} height={26} label="People with Aphasia, correct trials" />
      <Strip left={81} top={404} width={338} height={27} label="Control group" />
      <Strip left={427} top={404} width={781} height={27} label="People with Aphasia, correct trials" />

      {PANELS.map((p) => (
        <Panel key={p.id} cfg={p} />
      ))}

      <LegendBox left={797} top={270} width={409} names={TOP_NAMES} />
      <LegendBox left={758} top={635} width={445} names={BOTTOM_NAMES} />

      <div style={yTitleStyle(191)}>Looks to the target picture</div>
      <div style={yTitleStyle(557)}>Looks to the target picture</div>
      <div style={{ ...axisTitleStyle, top: 340 }}>Time since determiner onset (in ms)</div>
      <div style={{ ...axisTitleStyle, top: 706.6 }}>Time since relative clause onset (in ms)</div>
    </div>
  );
}
